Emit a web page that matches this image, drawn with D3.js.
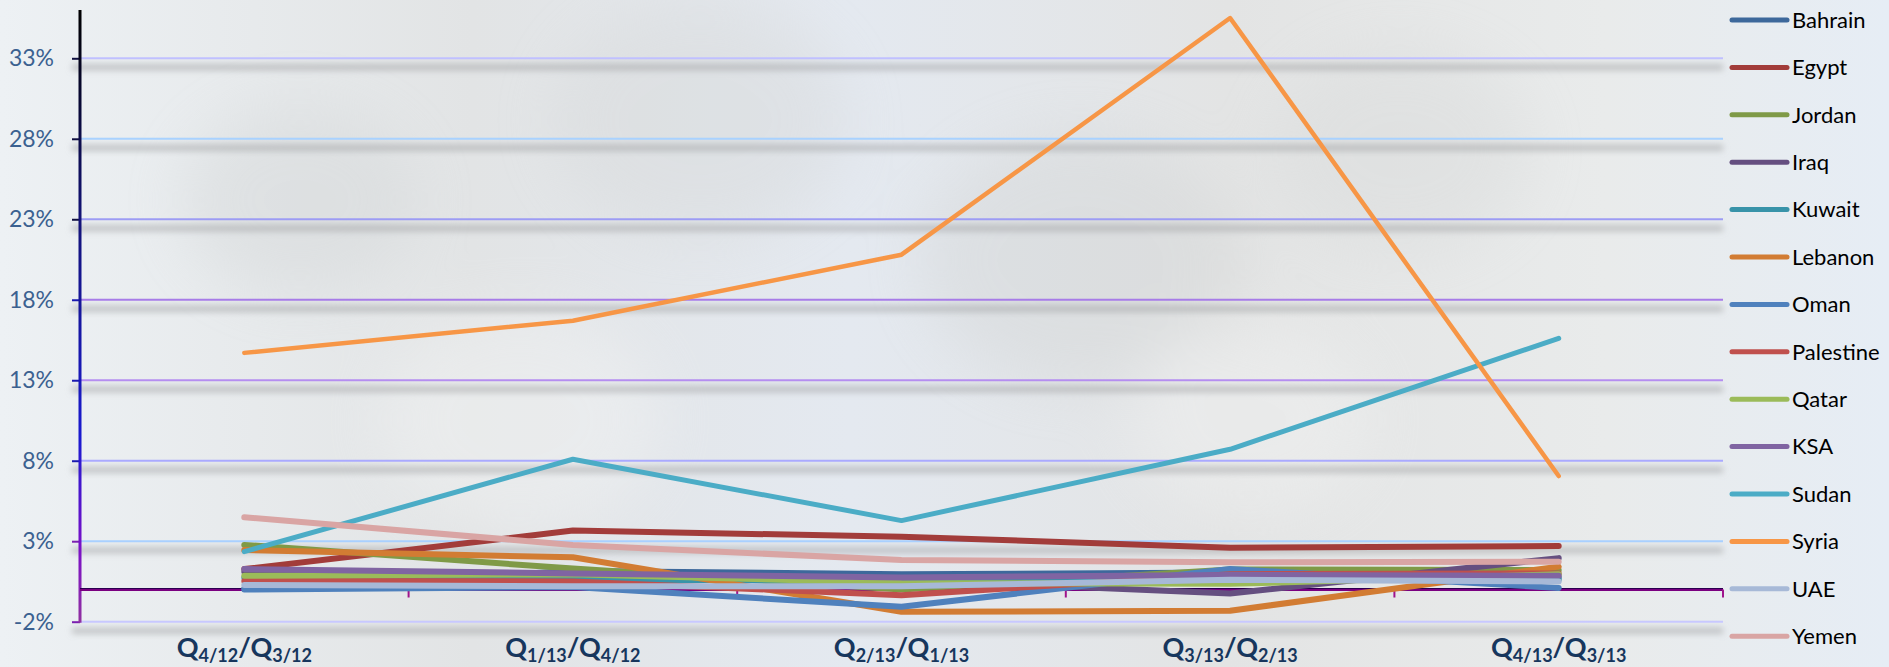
<!DOCTYPE html>
<html>
<head>
<meta charset="utf-8">
<script src="https://cdn.jsdelivr.net/npm/d3@7"></script>
<style>
  html, body { margin: 0; padding: 0; overflow: hidden; }
  body { width: 1889px; height: 667px; }
  svg { display: block; }
</style>
</head>
<body>
<svg id="chart" width="1889" height="667"></svg>
<script>
// ---------- data (percent change, quarter over quarter) ----------
const categories = [
  ["4/12", "3/12"],
  ["1/13", "4/12"],
  ["2/13", "1/13"],
  ["3/13", "2/13"],
  ["4/13", "3/13"]
];

const yTicks = [-2, 3, 8, 13, 18, 23, 28, 33];

const countries = ["Bahrain", "Egypt", "Jordan", "Iraq", "Kuwait", "Lebanon", "Oman",
  "Palestine", "Qatar", "KSA", "Sudan", "Syria", "UAE", "Yemen"];

const bahrain   = [0.05, 1.15, 0.95, 1.05, 0.75];
const egypt     = [1.27, 3.66, 3.28, 2.6, 2.7];
const jordan    = [2.77, 1.3, 0.0, 1.25, 1.2];
const iraq      = [1.1, 0.8, 0.6, -0.25, 1.95];
const kuwait    = [0.75, 0.6, 0.55, 0.7, 0.6];
const lebanon   = [2.45, 2.0, -1.38, -1.32, 1.42];
const oman      = [0.0, 0.15, -1.07, 1.27, 0.1];
const palestine = [0.53, 0.5, -0.35, 0.95, 1.0];
const qatar     = [0.85, 0.95, 0.4, 0.35, 0.95];
const ksa       = [1.27, 1.0, 0.75, 0.9, 0.85];
const sudan     = [2.35, 8.09, 4.28, 8.71, 15.6];
const syria     = [14.7, 16.7, 20.8, 35.5, 7.05];
const uae       = [0.28, 0.2, 0.2, 0.6, 0.5];
const yemen     = [4.49, 2.77, 1.83, 1.69, 1.73];

const seriesValues = [bahrain, egypt, jordan, iraq, kuwait, lebanon, oman,
  palestine, qatar, ksa, sudan, syria, uae, yemen];

const colors = ["#3d689b", "#a23c3a", "#7f9a47", "#654f80", "#3893a9", "#d27c33",
  "#4f81bd", "#c0504d", "#9bbb59", "#8064a2", "#4bacc6", "#f79646", "#a7b9d7", "#d9a5a4"];

// ---------- layout ----------
const W = 1889, H = 667;
const plot = { left: 80, right: 1723, top: 10, bottom: 621.7 };

const svg = d3.select("#chart");
const defs = svg.append("defs");

// background (soft grey/blue photo-like wash)
const bg = defs.append("linearGradient").attr("id", "bg").attr("x1", 0).attr("x2", 1).attr("y1", 0).attr("y2", 0);
bg.append("stop").attr("offset", "0%").attr("stop-color", "#edf1f4");
bg.append("stop").attr("offset", "25%").attr("stop-color", "#e2e4e5");
bg.append("stop").attr("offset", "45%").attr("stop-color", "#e4e9f0");
bg.append("stop").attr("offset", "65%").attr("stop-color", "#e3e4e4");
bg.append("stop").attr("offset", "85%").attr("stop-color", "#e9ebeb");
bg.append("stop").attr("offset", "100%").attr("stop-color", "#e6edf5");
svg.append("rect").attr("width", W).attr("height", H).attr("fill", "url(#bg)");

const blur = defs.append("filter").attr("id", "blur").attr("x", "-20%").attr("y", "-50%").attr("width", "140%").attr("height", "200%");
blur.append("feGaussianBlur").attr("stdDeviation", 3);
const bigBlur = defs.append("filter").attr("id", "bigblur").attr("x", "-50%").attr("y", "-50%").attr("width", "200%").attr("height", "200%");
bigBlur.append("feGaussianBlur").attr("stdDeviation", 30);

// faint blotches
const blobs = svg.append("g").attr("filter", "url(#bigblur)").attr("opacity", 0.35);
[[300, 200, 120, "#cfd2d3"], [700, 120, 150, "#d4d6d6"], [1080, 260, 160, "#cfd1d1"],
 [1400, 150, 130, "#d6d8d8"], [520, 420, 140, "#f7f8f8"], [1250, 420, 120, "#f5f6f6"]]
  .forEach(([cx, cy, r, c]) => blobs.append("ellipse").attr("cx", cx).attr("cy", cy).attr("rx", r).attr("ry", r * 0.8).attr("fill", c));

// ---------- scales ----------
const x = d3.scaleBand().domain(d3.range(categories.length)).range([plot.left, plot.right]);
const xc = (i) => x(i) + x.bandwidth() / 2;
const y = d3.scaleLinear().domain([-2, 36]).range([plot.bottom, plot.top]);

// gridline shadows
svg.append("g").attr("filter", "url(#blur)")
  .selectAll("line").data(yTicks).join("line")
  .attr("x1", plot.left - 8).attr("x2", plot.right)
  .attr("y1", d => y(d) + 9).attr("y2", d => y(d) + 9)
  .attr("stroke", "#9a9c9e").attr("stroke-opacity", 0.55).attr("stroke-width", 6);

// gridlines
const gridColors = { "-2": "#c8c8ff", "3": "#a9d0ff", "8": "#aaaaff", "13": "#b58ef0",
  "18": "#a77ce8", "23": "#9d9cf4", "28": "#a9d2ff", "33": "#c0c0ff" };
svg.append("g").selectAll("line").data(yTicks).join("line")
  .attr("x1", plot.left).attr("x2", plot.right)
  .attr("y1", d => y(d)).attr("y2", d => y(d))
  .attr("stroke", d => gridColors[d]).attr("stroke-width", 2);

// y axis (labels + ticks)
const yAxis = svg.append("g").attr("transform", `translate(${plot.left},0)`)
  .call(d3.axisLeft(y).tickValues(yTicks).tickSize(8).tickPadding(18).tickFormat(d => d + "%"));
yAxis.select(".domain").remove();
yAxis.selectAll(".tick line").attr("stroke", d => d < 5 ? "#7a1fb0" : d < 20 ? "#1a1ab0" : "#101040").attr("stroke-width", 2);
yAxis.selectAll(".tick text")
  .attr("fill", "#3b6190").attr("font-family", "Lato, 'Open Sans', sans-serif")
  .attr("font-size", 23);

// axis shadow
svg.append("line").attr("filter", "url(#blur)")
  .attr("x1", plot.left + 1).attr("x2", plot.left + 1).attr("y1", plot.top + 10).attr("y2", plot.bottom + 10)
  .attr("stroke", "#8d8f91").attr("stroke-opacity", 0.5).attr("stroke-width", 6);

// vertical axis line with gradient
const ag = defs.append("linearGradient").attr("id", "axisg").attr("gradientUnits", "userSpaceOnUse")
  .attr("x1", 0).attr("x2", 0).attr("y1", plot.top).attr("y2", plot.bottom);
ag.append("stop").attr("offset", "0%").attr("stop-color", "#000000");
ag.append("stop").attr("offset", "35%").attr("stop-color", "#13137a");
ag.append("stop").attr("offset", "70%").attr("stop-color", "#1a1ad0");
ag.append("stop").attr("offset", "88%").attr("stop-color", "#7a10c8");
ag.append("stop").attr("offset", "100%").attr("stop-color", "#9030a0");
svg.append("line")
  .attr("x1", plot.left).attr("x2", plot.left).attr("y1", plot.top).attr("y2", plot.bottom + 1)
  .attr("stroke", "url(#axisg)").attr("stroke-width", 3);

// zero line + category ticks
const y0 = y(0);
svg.append("line").attr("x1", plot.left).attr("x2", plot.right).attr("y1", y0).attr("y2", y0)
  .attr("stroke", "#7a0080").attr("stroke-width", 3);
svg.append("line").attr("x1", plot.left).attr("x2", plot.right).attr("y1", y0 - 1).attr("y2", y0 - 1)
  .attr("stroke", "#2a0050").attr("stroke-width", 1);
svg.append("g").selectAll("line").data(d3.range(1, categories.length + 1)).join("line")
  .attr("x1", i => plot.left + i * x.bandwidth()).attr("x2", i => plot.left + i * x.bandwidth())
  .attr("y1", y0).attr("y2", y0 + 8)
  .attr("stroke", "#a0148c").attr("stroke-width", 2);

// x labels with subscripts
const xl = svg.append("g").selectAll("text").data(categories).join("text")
  .attr("x", (d, i) => xc(i)).attr("y", 657)
  .attr("text-anchor", "middle")
  .attr("font-family", "Lato, 'Open Sans', sans-serif").attr("font-weight", "bold")
  .attr("font-size", 27).attr("fill", "#17365d");
xl.each(function (d) {
  const t = d3.select(this);
  t.append("tspan").text("Q");
  t.append("tspan").attr("font-size", 18).attr("dy", 5).text(d[0]);
  t.append("tspan").attr("dy", -5).text("/Q");
  t.append("tspan").attr("font-size", 18).attr("dy", 5).text(d[1]);
});

// ---------- series ----------
const line = d3.line().x((d, i) => xc(i)).y(d => y(d));
svg.append("g").selectAll("path").data(seriesValues).join("path")
  .attr("d", d => line(d))
  .attr("fill", "none")
  .attr("stroke", (d, i) => colors[i])
  .attr("stroke-width", (d, i) => countries[i] === "Syria" ? 4.5 : countries[i] === "Sudan" ? 5 : 6)
  .attr("stroke-linecap", "round").attr("stroke-linejoin", "round");

// ---------- legend ----------
const lg = svg.append("g").selectAll("g").data(countries).join("g")
  .attr("transform", (d, i) => `translate(1732,${20 + i * 47.4})`);
lg.append("line").attr("x1", 0).attr("x2", 55).attr("y1", 0).attr("y2", 0)
  .attr("stroke", (d, i) => colors[i]).attr("stroke-width", 5).attr("stroke-linecap", "round");
lg.append("text").attr("x", 60).attr("y", 0).attr("dy", "0.35em")
  .attr("font-family", "Lato, 'Open Sans', sans-serif").attr("font-size", 22)
  .attr("fill", "#000").text(d => d);
</script>
</body>
</html>
